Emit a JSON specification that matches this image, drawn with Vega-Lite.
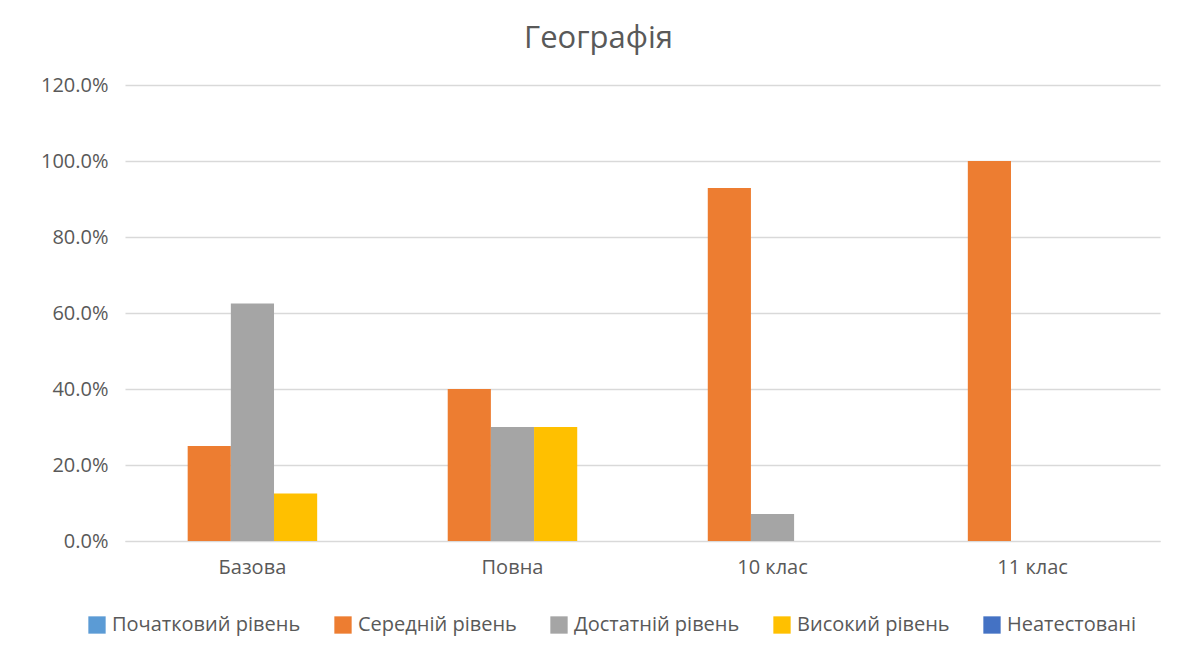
{
  "$schema": "https://vega.github.io/schema/vega-lite/v6.json",
  "autosize": {"type": "none"},
  "width": 1035,
  "height": 456,
  "padding": {"left": 125, "top": 85, "right": 20, "bottom": 121},
  "background": "white",
  "title": {
    "text": "Географія",
    "fontSize": 31,
    "font": "Open Sans",
    "fontWeight": "normal",
    "color": "#595959",
    "anchor": "middle",
    "dx": -44,
    "offset": 20
  },
  "data": {
    "values": [
      {"category": "Базова", "series": "Початковий рівень", "value": 0},
      {"category": "Базова", "series": "Середній рівень", "value": 0.25},
      {"category": "Базова", "series": "Достатній рівень", "value": 0.625},
      {"category": "Базова", "series": "Високий рівень", "value": 0.125},
      {"category": "Базова", "series": "Неатестовані", "value": 0},
      {"category": "Повна", "series": "Початковий рівень", "value": 0},
      {"category": "Повна", "series": "Середній рівень", "value": 0.4},
      {"category": "Повна", "series": "Достатній рівень", "value": 0.3},
      {"category": "Повна", "series": "Високий рівень", "value": 0.3},
      {"category": "Повна", "series": "Неатестовані", "value": 0},
      {"category": "10 клас", "series": "Початковий рівень", "value": 0},
      {"category": "10 клас", "series": "Середній рівень", "value": 0.929},
      {"category": "10 клас", "series": "Достатній рівень", "value": 0.071},
      {"category": "10 клас", "series": "Високий рівень", "value": 0},
      {"category": "10 клас", "series": "Неатестовані", "value": 0},
      {"category": "11 клас", "series": "Початковий рівень", "value": 0},
      {"category": "11 клас", "series": "Середній рівень", "value": 1.0},
      {"category": "11 клас", "series": "Достатній рівень", "value": 0},
      {"category": "11 клас", "series": "Високий рівень", "value": 0},
      {"category": "11 клас", "series": "Неатестовані", "value": 0}
    ]
  },
  "mark": {"type": "bar"},
  "encoding": {
    "x": {
      "field": "category",
      "type": "nominal",
      "sort": ["Базова", "Повна", "10 клас", "11 клас"],
      "scale": {"paddingInner": 0.17, "paddingOuter": 0.075},
      "axis": {
        "title": null,
        "labelAngle": 0,
        "labelFont": "Open Sans",
        "labelFontSize": 20,
        "labelColor": "#595959",
        "labelPadding": 16,
        "ticks": false,
        "domain": true,
        "domainColor": "#D9D9D9",
        "grid": false
      }
    },
    "xOffset": {
      "field": "series",
      "type": "nominal",
      "sort": ["Початковий рівень", "Середній рівень", "Достатній рівень", "Високий рівень", "Неатестовані"],
      "scale": {"paddingInner": 0, "paddingOuter": 0}
    },
    "y": {
      "field": "value",
      "type": "quantitative",
      "scale": {"domain": [0, 1.2], "nice": false},
      "axis": {
        "title": null,
        "format": ".1%",
        "values": [0, 0.2, 0.4, 0.6, 0.8, 1.0, 1.2],
        "labelFont": "Open Sans",
        "labelFontSize": 20,
        "labelColor": "#595959",
        "labelPadding": 17,
        "ticks": false,
        "domain": false,
        "grid": true,
        "gridColor": "#D9D9D9",
        "gridWidth": 1.3
      }
    },
    "color": {
      "field": "series",
      "type": "nominal",
      "sort": ["Початковий рівень", "Середній рівень", "Достатній рівень", "Високий рівень", "Неатестовані"],
      "scale": {
        "domain": ["Початковий рівень", "Середній рівень", "Достатній рівень", "Високий рівень", "Неатестовані"],
        "range": ["#5B9BD5", "#ED7D31", "#A5A5A5", "#FFC000", "#4472C4"]
      },
      "legend": {
        "title": null,
        "orient": "none",
        "legendX": -38,
        "legendY": 530,
        "direction": "horizontal",
        "symbolType": "square",
        "symbolSize": 300,
        "symbolStrokeWidth": 0,
        "labelFont": "Open Sans",
        "labelFontSize": 20,
        "labelColor": "#595959",
        "labelOffset": 5,
        "labelLimit": 0,
        "columnPadding": 32
      }
    }
  },
  "config": {
    "view": {"stroke": null}
  }
}
